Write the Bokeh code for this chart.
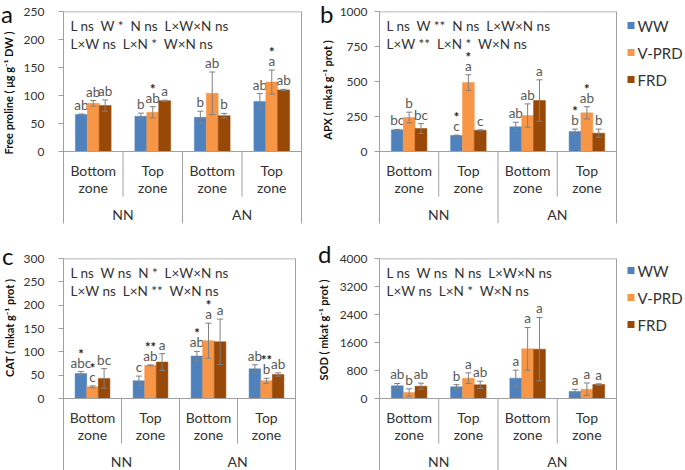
import numpy as np
from bokeh.plotting import figure
from bokeh.models import (FactorRange, Range1d, ColumnDataSource, Whisker, TeeHead, Span,
                          LinearAxis, FixedTicker, Div)
from bokeh.transform import dodge
from bokeh.layouts import row, column
from bokeh.embed import file_html
from bokeh.resources import INLINE
from bokeh.core.properties import value

# ---------------- data ----------------
nitrogen = ["NN", "AN"]
zones = ["Bottom zone", "Top zone"]
treatments = ["WW", "V-PRD", "FRD"]
colors = ["#4F81BD", "#F79646", "#984807"]

# (a) Free proline
pro_ww = [66, 63, 61, 89.5]
pro_vprd = [86, 70, 104, 124]
pro_frd = [82, 90.6, 64, 110]
pro_ww_err = [1, 5.5, 11, 14]
pro_vprd_err = [5, 10, 38, 21.5]
pro_frd_err = [10, 1, 4, 1]
pro_let_ww = ["ab", "b", "b", "ab"]
pro_let_vprd = ["ab", "ab", "ab", "a"]
pro_let_frd = ["ab", "a", "b", "ab"]
pro_star_ww = ["", "", "", ""]
pro_star_vprd = ["", "*", "", "*"]
pro_star_frd = ["", "", "", ""]
pro_stats = ["L ns  W *  N ns  L×W×N ns", "L×W ns  L×N *  W×N ns"]
pro_ticks = [0, 50, 100, 150, 200, 250]

# (b) APX
apx_ww = [155, 114, 176, 143]
apx_vprd = [243, 493, 257, 276]
apx_frd = [164, 152, 364, 131]
apx_ww_err = [3, 3, 33, 17]
apx_vprd_err = [38, 55, 83, 44]
apx_frd_err = [35, 3, 148, 29]
apx_let_ww = ["bc", "c", "ab", "b"]
apx_let_vprd = ["b", "a", "ab", "ab"]
apx_let_frd = ["bc", "c", "a", "b"]
apx_star_ww = ["", "*", "", "*"]
apx_star_vprd = ["", "*", "", "*"]
apx_star_frd = ["", "", "", ""]
apx_stats = ["L ns  W **  N ns  L×W×N ns", "L×W **  L×N *  W×N ns"]
apx_ticks = [0, 250, 500, 750, 1000]

# (c) CAT
cat_ww = [53.6, 38, 91, 63.6]
cat_vprd = [25, 71, 124, 38]
cat_frd = [43, 78, 121.5, 51.4]
cat_ww_err = [4, 10, 10, 8.6]
cat_vprd_err = [2, 1, 37.5, 5.4]
cat_frd_err = [21, 18, 48.6, 3.6]
cat_let_ww = ["abc", "c", "ab", "ab"]
cat_let_vprd = ["c", "ab", "a", "b"]
cat_let_frd = ["bc", "a", "a", "ab"]
cat_star_ww = ["*", "", "*", ""]
cat_star_vprd = ["*", "**", "*", "**"]
cat_star_frd = ["", "", "", ""]
cat_stats = ["L ns  W ns  N *  L×W×N ns", "L×W ns  L×N **  W×N ns"]
cat_ticks = [0, 50, 100, 150, 200, 250, 300]

# (d) SOD
sod_ww = [362, 333, 581, 200]
sod_vprd = [171, 581, 1419, 267]
sod_frd = [352, 390, 1410, 400]
sod_ww_err = [67, 62, 229, 62]
sod_vprd_err = [105, 152, 610, 176]
sod_frd_err = [86, 105, 905, 20]
sod_let_ww = ["ab", "b", "a", "a"]
sod_let_vprd = ["b", "a", "a", "a"]
sod_let_frd = ["ab", "ab", "a", "a"]
sod_star_ww = ["", "", "", ""]
sod_star_vprd = ["", "", "", ""]
sod_star_frd = ["", "", "", ""]
sod_stats = ["L ns  W ns  N ns  L×W×N ns", "L×W ns  L×N *  W×N ns"]
sod_ticks = [0, 800, 1600, 2400, 3200, 4000]

FONT = "Lato"
GRAY = "#A0A0A0"
TXT = "#333333"
LETTER = "#595959"
NB = "\u00a0"

factors = [(n, z) for n in nitrogen for z in zones]
offsets = [-0.2, 0.0, 0.2]

H = 235
ROWS = {
    1: dict(top=11, zero_px=140, below=72, bottom=12, leg_first=25),
    2: dict(top=23, zero_px=140, below=72, bottom=0, leg_first=35),
}


def keep_spaces(s):
    return s.replace("  ", NB + " ")


def side(letter, ylabel, width, letter_x, letter_top, lab_x, lab_y):
    html = (
        f'<div style="position:relative;width:{width}px;height:{H}px;'
        f'font-family:Lato,sans-serif;color:#111111;overflow:visible;">'
        f'<span style="position:absolute;left:{letter_x}px;top:{letter_top}px;'
        f'font-size:24px;line-height:24px;">{letter}</span>'
        f'<span style="position:absolute;left:{lab_x}px;top:{lab_y}px;'
        f'transform:translate(-50%,-50%) rotate(-90deg);white-space:nowrap;'
        f'font-size:11px;font-weight:bold;line-height:13px;">{ylabel}</span>'
        f'</div>'
    )
    return Div(text=html, width=width, height=H, margin=0,
               styles={"overflow": "visible"})


def legend_fig(width, rowno):
    g = ROWS[rowno]
    f = figure(width=width, height=H, output_backend="svg", toolbar_location=None,
               x_range=Range1d(0, width), y_range=Range1d(g["bottom"], H - g["top"]),
               x_axis_type=None, y_axis_type=None, min_border_left=0, min_border_right=0,
               min_border_top=g["top"], min_border_bottom=g["bottom"])
    f.outline_line_color = None
    f.xgrid.visible = False
    f.ygrid.visible = False
    ys = [H - (g["leg_first"] + 27 * i) for i in range(3)]
    src = ColumnDataSource(dict(x=[12.5] * 3, tx=[19] * 3, y=ys, c=colors, t=treatments))
    f.rect(x="x", y="y", width=7, height=7, source=src, fill_color="c", line_color=None)
    f.text(x="tx", y="y", text="t", source=src, text_align="left", text_baseline="middle",
           text_font=value(FONT), text_font_size="15px", text_color=TXT)
    return f


def panel(ticks, means, errs, lets, stars, stats, rowno, width, bl, br, standoff):
    g = ROWS[rowno]
    ymax = ticks[-1]
    k = ymax / g["zero_px"]           # data units per pixel
    ymin = -g["below"] * k

    p = figure(width=width, height=H, output_backend="svg", toolbar_location=None,
               x_range=FactorRange(*factors, group_padding=0, factor_padding=0,
                                   subgroup_padding=0, range_padding=0),
               y_range=Range1d(ymin, ymax),
               min_border_left=bl, min_border_right=br,
               min_border_top=g["top"], min_border_bottom=g["bottom"])
    p.outline_line_color = None
    p.xgrid.visible = False
    p.ygrid.visible = False
    p.xaxis.visible = False

    ax = p.yaxis[0]
    ax.ticker = FixedTicker(ticks=ticks)
    ax.axis_line_color = GRAY
    ax.major_tick_line_color = GRAY
    ax.major_tick_out = 5
    ax.major_tick_in = 0
    ax.minor_tick_line_color = None
    ax.major_label_standoff = standoff
    ax.major_label_text_font = FONT
    ax.major_label_text_font_size = "12px"
    ax.major_label_text_color = TXT

    rax = LinearAxis(ticker=FixedTicker(ticks=[]), axis_line_color=GRAY,
                     major_tick_line_color=None, minor_tick_line_color=None,
                     major_label_text_font_size="0px", major_label_standoff=0)
    p.add_layout(rax, "right")

    p.add_layout(Span(location=ymax, dimension="width", line_color=GRAY, line_width=1.5))
    p.add_layout(Span(location=0, dimension="width", line_color=GRAY, line_width=1))

    # separators in the category area
    sep = ColumnDataSource(dict(x=[factors[0], factors[1], factors[2]],
                                y0=[0, 0, 0], y1=[-45 * k, ymin, -45 * k]))
    p.segment(x0=dodge("x", 0.5, range=p.x_range), x1=dodge("x", 0.5, range=p.x_range),
              y0="y0", y1="y1", source=sep, line_color=GRAY, line_width=1)

    # category labels
    lab = ColumnDataSource(dict(x=factors,
                                l1=[f[1].split(" ")[0] for f in factors],
                                l2=[f[1].split(" ")[1] for f in factors],
                                y1=[-19 * k] * 4, y2=[-36 * k] * 4))
    for col, ycol in (("l1", "y1"), ("l2", "y2")):
        p.text(x="x", y=ycol, text=col, source=lab, text_align="center",
               text_baseline="middle", text_font=value(FONT), text_font_size="14px",
               text_color=TXT)
    nlab = ColumnDataSource(dict(x=[factors[0], factors[2]], t=nitrogen, y=[-63 * k] * 2))
    p.text(x=dodge("x", 0.5, range=p.x_range), y="y", text="t", source=nlab,
           text_align="center", text_baseline="middle",
           text_font=value(FONT), text_font_size="14px", text_color=TXT)

    for i in range(3):
        m = np.array(means[i], dtype=float)
        e = np.array(errs[i], dtype=float)
        src = ColumnDataSource(dict(x=factors, top=m, up=m + e, lo=m - e,
                                    ly=m + e + 1 * k, sy=m + e + 10 * k,
                                    let=lets[i], star=stars[i]))
        xd = dodge("x", offsets[i], range=p.x_range)
        p.vbar(x=xd, top="top", width=0.2, source=src, fill_color=colors[i],
               line_color=colors[i], line_width=0.5)
        w = Whisker(source=src, base=xd, upper="up", lower="lo", line_color="#808080",
                    line_width=1, level="overlay",
                    upper_head=TeeHead(size=6, line_color="#808080", line_width=1),
                    lower_head=TeeHead(size=6, line_color="#808080", line_width=1))
        p.add_layout(w)
        p.text(x=xd, y="ly", text="let", source=src, text_align="center",
               text_baseline="bottom", text_font=value(FONT), text_font_size="13.5px",
               text_color=LETTER)
        p.text(x=xd, y="sy", text="star", source=src, text_align="center",
               text_baseline="bottom", text_font=value(FONT), text_font_size="13px",
               text_color="#222222", text_font_style="bold")

    # statistics text
    st = ColumnDataSource(dict(x=[factors[0], factors[0]], y=[ymax - 14 * k, ymax - 32 * k],
                               t=[keep_spaces(s) for s in stats]))
    p.text(x=dodge("x", -0.5, range=p.x_range), y="y", text="t", source=st, x_offset=7,
           text_align="left", text_baseline="middle", text_font=value(FONT),
           text_font_size="13.5px", text_color=TXT)
    return p


la = side("a", "Free proline ( μg g⁻¹ DW )", 20, 1, 2, 8, 93)
pa = panel(pro_ticks, [pro_ww, pro_vprd, pro_frd], [pro_ww_err, pro_vprd_err, pro_frd_err],
           [pro_let_ww, pro_let_vprd, pro_let_frd], [pro_star_ww, pro_star_vprd, pro_star_frd],
           pro_stats, 1, 298, 41, 17, 14)
lb = side("b", "APX ( mkat g⁻¹ prot )", 18, 2, 2, 9, 90)
pb = panel(apx_ticks, [apx_ww, apx_vprd, apx_frd], [apx_ww_err, apx_vprd_err, apx_frd_err],
           [apx_let_ww, apx_let_vprd, apx_let_frd], [apx_star_ww, apx_star_vprd, apx_star_frd],
           apx_stats, 1, 282, 42, 2, 7)
gb = legend_fig(67, 1)
lc = side("c", "CAT ( mkat g⁻¹ prot )", 20, 2, 9, 9, 93)
pc = panel(cat_ticks, [cat_ww, cat_vprd, cat_frd], [cat_ww_err, cat_vprd_err, cat_frd_err],
           [cat_let_ww, cat_let_vprd, cat_let_frd], [cat_star_ww, cat_star_vprd, cat_star_frd],
           cat_stats, 2, 298, 41, 23, 14)
ld = side("d", "SOD ( mkat g⁻¹ prot )", 18, 0, 7, 5, 95)
pd_ = panel(sod_ticks, [sod_ww, sod_vprd, sod_frd], [sod_ww_err, sod_vprd_err, sod_frd_err],
            [sod_let_ww, sod_let_vprd, sod_let_frd], [sod_star_ww, sod_star_vprd, sod_star_frd],
            sod_stats, 2, 282, 42, 2, 7)
gd = legend_fig(67, 2)

layout = column(row(la, pa, lb, pb, gb), row(lc, pc, ld, pd_, gd))
open("out.html", "w").write(file_html(layout, INLINE))
